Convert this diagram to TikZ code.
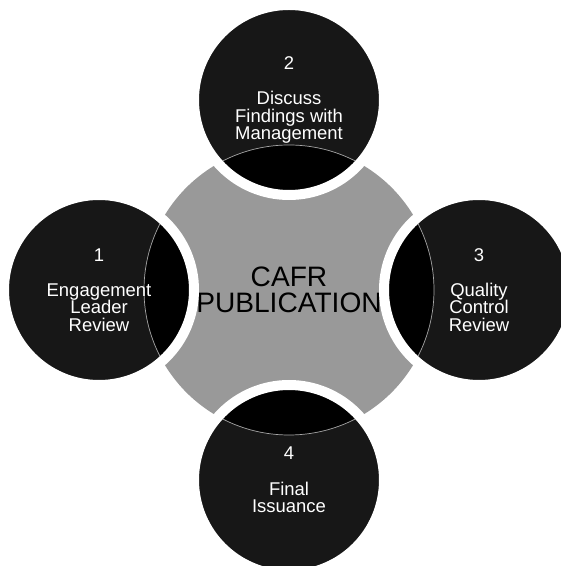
\documentclass[tikz,border=0pt]{standalone}
\usepackage{fontspec}
\setmainfont{Liberation Sans}
\usepackage{tikz}
\definecolor{hubgray}{gray}{0.6}
\definecolor{stagedark}{gray}{0.09}

\begin{document}
\begin{tikzpicture}[
  hub/.style={circle, minimum size=5.8cm, fill=hubgray, align=center,
    font=\fontsize{16}{15}\selectfont},
  stage/.style={circle, minimum size=3.8cm, fill=stagedark, draw=white,
    line width=2mm, text=white, align=center,
    font=\fontsize{10.5}{10}\selectfont,
    path picture={\fill[black] (hub.center) circle (2.9cm);
      \draw[gray!70, line width=0.4pt] (hub.center) circle (2.9cm);}}]
\useasboundingbox (-5.78,-5.52) rectangle (5.42,5.8);
\node[hub] (hub) at (0,0) {CAFR\\PUBLICATION};
\node[stage] (leader) at (180:3.8) {1\\[10pt]Engagement\\Leader\\Review};
\node[stage] (discuss) at (90:3.8) {2\\[10pt]Discuss\\Findings with\\Management};
\node[stage] (quality) at (0:3.8) {3\\[10pt]Quality\\Control\\Review};
\node[stage] (final) at (270:3.8) {4\\[10pt]Final\\Issuance};
\end{tikzpicture}
\end{document}
